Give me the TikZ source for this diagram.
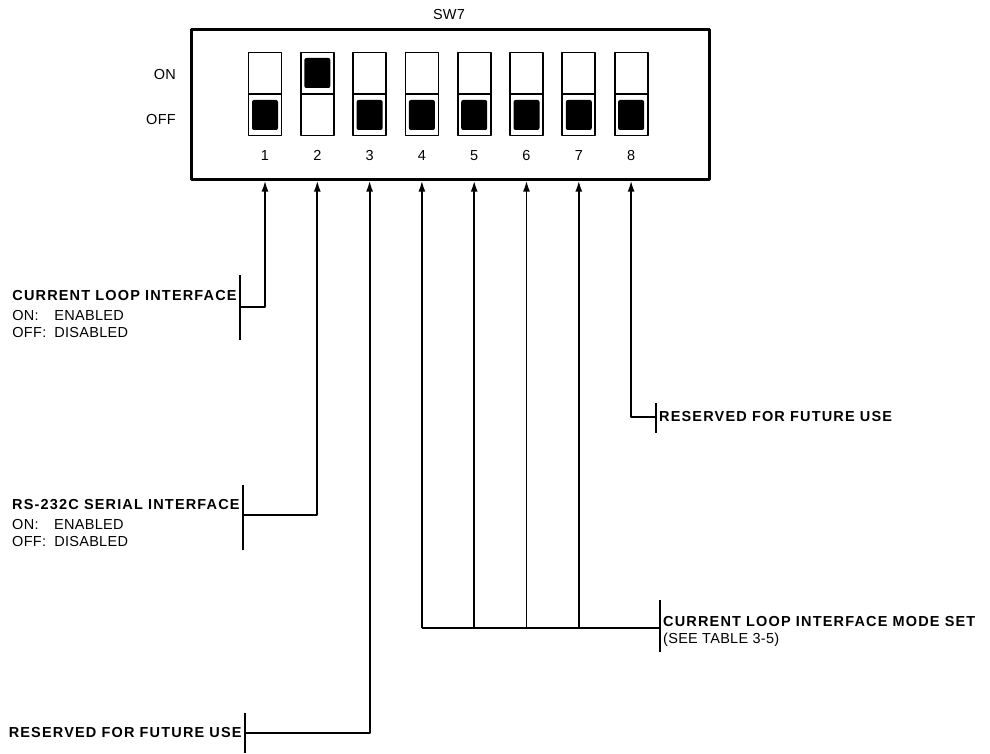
\documentclass[tikz,border=0pt]{standalone}
\usepackage{fontspec}
\setmainfont{Liberation Sans}[LetterSpace=2,BoldFeatures={LetterSpace=8}]
\usetikzlibrary{arrows.meta,positioning}
\tikzset{
	swbody/.style={draw,line width=1.8pt,minimum width=33pt,minimum height=83pt},
	knob/.style={fill=black,rounded corners=2pt,minimum width=26pt,minimum height=30pt},
	lead/.style={line width=1.8pt},
	bar/.style={line width=1.8pt},
	lbl/.style={align=left}
}
\begin{document}
\begin{tikzpicture}[x=1pt,y=-1pt,line join=round,>={Latex[length=11pt,width=7pt]},font=\fontsize{14.5}{17}\selectfont,every node/.style={inner sep=0pt}]
	\useasboundingbox (0,0) rectangle (990,754);
	\node[draw,line width=2.6pt,minimum width=518pt,minimum height=150pt,anchor=north west] (box) at (190,28) {};
	\node (title) at (449,15) {SW7};
	\node[anchor=east] (on) at (176,75) {ON};
	\node[anchor=east] (off) at (176,120) {OFF};
	% the eight switches, knob up = ON
	\foreach \n/\k in {1/-21,2/21,3/-21,4/-21,5/-21,6/-21,7/-21,8/-21}
	{\node[swbody] (s\n) at ({265+52.3*(\n-1)},94) {};
		\draw[line width=1.8pt] (s\n.west)--(s\n.east);
		\node[knob] (k\n) at ([yshift=\k pt]s\n.center) {};
		\node[below=14pt of s\n] (n\n) {\n};}
	% labels on the left
	\coordinate (b1) at (240,307);
	\draw[bar] ([yshift=32pt]b1)--([yshift=-33pt]b1);
	\node[lbl,anchor=north east] (cli) at ([xshift=-2pt,yshift=17pt]b1) {\textbf{CURRENT LOOP INTERFACE}\\[3pt]\makebox[42pt][l]{ON:}ENABLED\\\makebox[42pt][l]{OFF:}DISABLED};
	\draw[lead,->] (b1) -| (s1 |- box.south);
	\coordinate (b2) at (243,515);
	\draw[bar] ([yshift=30pt]b2)--([yshift=-35pt]b2);
	\node[lbl,anchor=north east] (rsi) at ([xshift=-2pt,yshift=16pt]b2) {\textbf{RS-232C SERIAL INTERFACE}\\[3pt]\makebox[42pt][l]{ON:}ENABLED\\\makebox[42pt][l]{OFF:}DISABLED};
	\draw[lead,->] (b2) -| (s2 |- box.south);
	\coordinate (b3) at (245,733);
	\draw[bar] ([yshift=20pt]b3)--([yshift=-20pt]b3);
	\node[anchor=east] (rfu) at ([xshift=-2pt]b3) {\textbf{RESERVED FOR FUTURE USE}};
	\draw[lead,->] (b3) -| (s3 |- box.south);
	% labels on the right
	\coordinate (b8) at (656,417);
	\draw[bar] ([yshift=14pt]b8)--([yshift=-16pt]b8);
	\node[anchor=west] (rfu8) at ([xshift=3pt]b8) {\textbf{RESERVED FOR FUTURE USE}};
	\draw[lead,->] (b8) -| (s8 |- box.south);
	\coordinate (bm) at (660,628);
	\draw[bar] ([yshift=28pt]bm)--([yshift=-24pt]bm);
	\node[lbl,anchor=north west] (mode) at ([xshift=3pt,yshift=12pt]bm) {\textbf{CURRENT LOOP INTERFACE MODE SET}\\(SEE TABLE 3-5)};
	\draw[lead] (bm)--(s4 |- bm);
	\foreach \n in {4,...,7}
	{\draw[lead,->] (s\n |- bm)--(s\n |- box.south);}
\end{tikzpicture}
\end{document}
